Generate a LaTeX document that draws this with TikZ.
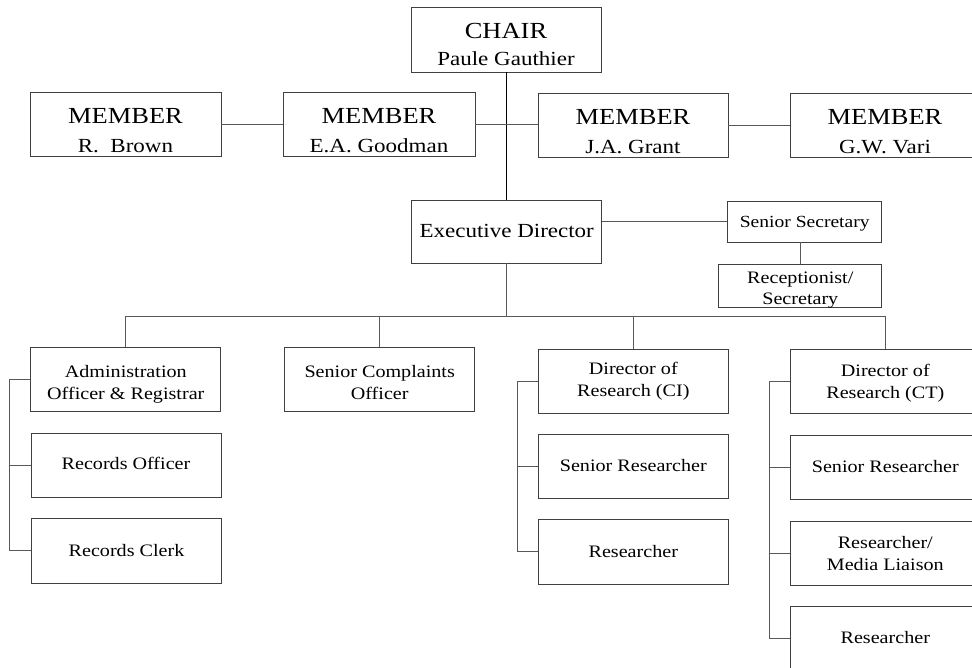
\documentclass[tikz,border=0pt]{standalone}
\usepackage{fontspec}
\setmainfont[FakeStretch=1.15]{Liberation Serif}
\newcommand\twoline[2]{\begin{tabular}{@{}c@{}}#1\\#2\end{tabular}}
\newcommand\vshift[2]{\raisebox{#1}[\height][\depth]{#2}}
\begin{document}
\begin{tikzpicture}[x=1pt,y=-1pt,
  box/.style={draw=black!75,line width=0.8pt,rectangle,minimum width=190pt,minimum height=64pt,inner sep=0pt,font=\fontsize{17.5}{22}\selectfont},
  board/.style={box,font=\fontsize{20}{29}\selectfont},
  link/.style={draw=black!65,line width=0.8pt},
  trunk/.style={draw=black,line width=1pt}]
\clip (0,0) rectangle (972,668);
\fill[white] (0,0) rectangle (972,668);
% board
\node[board,minimum height=65pt,font=\fontsize{20}{27}\selectfont] (chair) at (506,39.5) {\vshift{-7pt}{\twoline{\fontsize{23}{27}\selectfont CHAIR}{Paule Gauthier}}};
\node[board,minimum width=191pt] (m1) at (125.5,124.5) {\vshift{-8pt}{\twoline{\fontsize{23}{29}\selectfont MEMBER}{R.\ \ Brown}}};
\node[board,minimum width=192pt] (m2) at (379,124.5) {\vshift{-8pt}{\twoline{\fontsize{23}{29}\selectfont MEMBER}{E.A. Goodman}}};
\node[board] (m3) at (633,125.5) {\vshift{-8pt}{\twoline{\fontsize{23}{29}\selectfont MEMBER}{J.A. Grant}}};
\node[board] (m4) at (885,125.5) {\vshift{-8pt}{\twoline{\fontsize{23}{29}\selectfont MEMBER}{G.W. Vari}}};
% executive
\node[box,minimum height=63pt,font=\fontsize{20}{24}\selectfont] (exec) at (506.7,231.5) {\vshift{1pt}{Executive Director}};
\node[box,minimum width=154pt,minimum height=41pt,font=\fontsize{17}{21}\selectfont] (sensec) at (804.7,221.5) {\vshift{-2pt}{Senior Secretary}};
\node[box,minimum width=163pt,minimum height=43pt,font=\fontsize{17.5}{21}\selectfont] (recep) at (800.3,285.5) {\vshift{-4pt}{\twoline{Receptionist/}{Secretary}}};
% columns
\node[box] (admin) at (125.8,379.5) {\vshift{-5pt}{\twoline{Administration}{Officer \& Registrar}}};
\node[box] (complaints) at (379.7,379.7) {\vshift{-4pt}{\twoline{Senior Complaints}{Officer}}};
\node[box] (recoff) at (126,465) {\vshift{2pt}{Records Officer}};
\node[box,minimum height=65pt] (recclerk) at (126.5,550.5) {Records Clerk};
\node[box] (dirci) at (633.3,381) {\twoline{Director of}{Research (CI)}};
\node[box] (srci) at (633.3,466) {Senior Researcher};
\node[box,minimum height=65pt] (resci) at (633.3,551.5) {Researcher};
\node[box] (dirct) at (885.3,381.5) {\vshift{-2pt}{\twoline{Director of}{Research (CT)}}};
\node[box] (srct) at (885.3,467) {Senior Researcher};
\node[box] (rmlct) at (885.3,553) {\vshift{-2pt}{\twoline{Researcher/}{Media Liaison}}};
\node[box] (resct) at (885.3,638) {Researcher};
% helper coordinates
\coordinate (bus) at (506.7,316);
\coordinate (sa) at (9.3,0);
\coordinate (sci) at (517.3,0);
\coordinate (sct) at (769.3,0);
% connectors
\draw[trunk] (chair.south) -- (chair.south |- exec.north);
\draw[link] (m1) -- (m2);
\draw[link] (m2.east) -- (m2.east -| m3.west);
\draw[link] (m3) -- (m4);
\draw[link] (sensec.west) -- (sensec.west -| exec.east);
\draw[link] (recep.north) -- (recep.north |- sensec.south);
\draw[link] (exec.south) -- (exec.south |- bus);
\draw[link] (admin.north) -- (admin.north |- bus) -- (dirct.north |- bus) -- (dirct.north);
\draw[link] (complaints.north) -- (complaints.north |- bus);
\draw[link] (dirci.north) -- (dirci.north |- bus);
\draw[link] (admin.west) -| (sa |- recclerk.west) -- (recclerk.west);
\draw[link] (recoff.west) -- (recoff.west -| sa);
\draw[link] (dirci.west) -| (sci |- resci.west) -- (resci.west);
\draw[link] (srci.west) -- (srci.west -| sci);
\draw[link] (dirct.west) -| (sct |- resct.west) -- (resct.west);
\draw[link] (srct.west) -- (srct.west -| sct);
\draw[link] (rmlct.west) -- (rmlct.west -| sct);
\end{tikzpicture}
\end{document}
